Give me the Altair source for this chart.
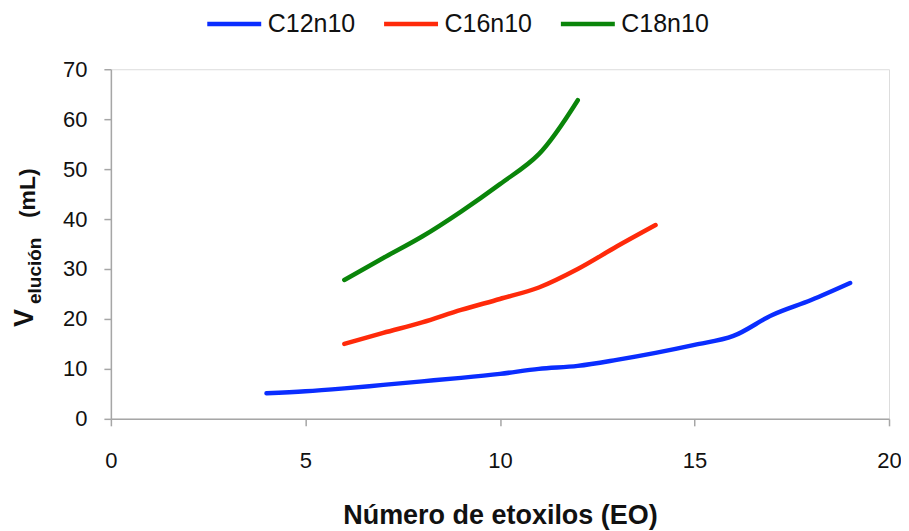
import altair as alt
import pandas as pd

series_names = ["C12n10", "C16n10", "C18n10"]
series_colors = ["#0A2DFF", "#FF2A0A", "#0A850A"]

eo_c12 = list(range(4, 20))
v_c12 = [5.1, 5.5, 6.1, 6.8, 7.5, 8.2, 9.0, 10.0, 10.6, 11.8, 13.2, 14.8, 16.6, 20.8, 23.8, 27.2]

eo_c16 = list(range(6, 15))
v_c16 = [15.0, 17.2, 19.3, 21.8, 24.0, 26.3, 30.0, 34.5, 38.8]

eo_c18 = list(range(6, 13))
v_c18 = [27.8, 32.2, 36.5, 41.5, 47.0, 53.0, 63.8]

x_ticks = [0, 5, 10, 15, 20]
y_ticks = [0, 10, 20, 30, 40, 50, 60, 70]

x_title = "Número de etoxilos (EO)"
y_title_main = "V"
y_title_sub = "elución"
y_title_unit = "(mL)"

rows = []
for name, xs, ys in zip(series_names, [eo_c12, eo_c16, eo_c18], [v_c12, v_c16, v_c18]):
    for xv, yv in zip(xs, ys):
        rows.append({"serie": name, "eo": xv, "v": yv})
df = pd.DataFrame(rows)

FONT = "Liberation Sans"
AXIS_GREY = "#A6A6A6"

lines = alt.Chart(df).mark_line(
    strokeWidth=4.5, interpolate="catmull-rom", strokeCap="round", strokeJoin="round"
).encode(
    x=alt.X(
        "eo:Q",
        scale=alt.Scale(domain=[0, 20], nice=False, zero=False),
        axis=alt.Axis(
            values=x_ticks, title=x_title, grid=False, labelFlush=False,
            domainColor=AXIS_GREY, tickColor=AXIS_GREY, tickSize=7, domainWidth=1.5, tickWidth=1.5,
            labelFont=FONT, labelFontSize=22, labelColor="#111111", labelPadding=25,
            titleFont=FONT, titleFontSize=27, titleFontWeight="bold", titleColor="#111111",
            titlePadding=31,
        ),
    ),
    y=alt.Y(
        "v:Q",
        scale=alt.Scale(domain=[0, 70], nice=False),
        axis=alt.Axis(
            values=y_ticks, title=None, grid=False, labelFlush=False,
            domainColor=AXIS_GREY, tickColor=AXIS_GREY, tickSize=7, domainWidth=1.5, tickWidth=1.5,
            labelFont=FONT, labelFontSize=22, labelColor="#111111", labelPadding=17,
        ),
    ),
    color=alt.Color(
        "serie:N",
        scale=alt.Scale(domain=series_names, range=series_colors),
        legend=alt.Legend(
            title=None, orient="none", direction="horizontal", legendX=94, legendY=-75,
            symbolType="stroke", symbolSize=2916, symbolStrokeWidth=4.5,
            labelFont=FONT, labelFontSize=25, labelColor="#111111", labelOffset=4,
            columnPadding=19, padding=0,
        ),
    ),
    detail="serie:N",
)

t_main = alt.Chart(pd.DataFrame({"t": [y_title_main]})).mark_text(
    angle=270, align="left", baseline="alphabetic", font=FONT, fontSize=27,
    fontWeight="bold", color="#111111"
).encode(text="t:N", x=alt.value(-78), y=alt.value(258))

t_sub = alt.Chart(pd.DataFrame({"t": [y_title_sub]})).mark_text(
    angle=270, align="left", baseline="alphabetic", font=FONT, fontSize=19,
    fontWeight="bold", color="#111111"
).encode(text="t:N", x=alt.value(-70), y=alt.value(235))

t_unit = alt.Chart(pd.DataFrame({"t": [y_title_unit]})).mark_text(
    angle=270, align="left", baseline="alphabetic", font=FONT, fontSize=23,
    fontWeight="bold", color="#111111"
).encode(text="t:N", x=alt.value(-76), y=alt.value(149))

chart = alt.layer(lines, t_main, t_sub, t_unit).properties(
    width=779, height=350,
    autosize=alt.AutoSizeParams(type="none"),
    padding={"left": 103, "top": 61, "right": 12, "bottom": 112},
).configure_view(stroke=None).configure(background="white")

chart.save("out.html", embed_options={"renderer": "svg", "actions": False})
